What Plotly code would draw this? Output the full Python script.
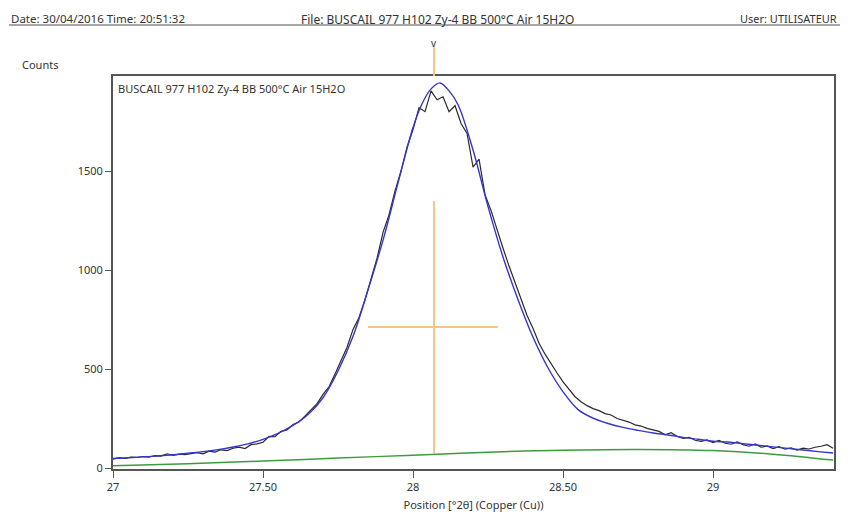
import plotly.graph_objects as go

# ---- data ----
obs_x = [round(27.00 + 0.02 * i, 2) for i in range(121)]
obs_counts = [45, 52, 48, 55, 53, 58, 55, 63, 60, 72, 64, 70, 68, 74, 78, 72, 85, 80, 92, 88,
              100, 105, 98, 118, 122, 130, 160, 158, 185, 192, 220, 232, 262, 290, 325, 372, 410, 475, 540, 610,
              700, 760, 850, 960, 1060, 1190, 1280, 1400, 1500, 1620, 1710, 1820, 1800, 1905, 1860, 1875, 1800, 1830, 1740, 1690,
              1520, 1560, 1380, 1300, 1200, 1110, 1020, 940, 860, 770, 705, 630, 575, 525, 480, 435, 395, 360, 335, 315,
              300, 290, 275, 268, 250, 240, 232, 218, 212, 200, 192, 185, 168, 178, 160, 150, 155, 140, 135, 142,
              128, 140, 125, 120, 132, 118, 110, 122, 105, 112, 98, 108, 95, 102, 90, 100, 96, 105, 110, 118, 100]

fit_x = [27.00, 27.05, 27.10, 27.15, 27.20, 27.25, 27.30, 27.35, 27.40, 27.45, 27.50, 27.55, 27.60, 27.65,
         27.70, 27.75, 27.80, 27.85, 27.90, 27.95, 28.00, 28.03, 28.06, 28.09, 28.12, 28.15, 28.20, 28.25,
         28.30, 28.35, 28.40, 28.45, 28.50, 28.55, 28.60, 28.65, 28.70, 28.75, 28.80, 28.85, 28.90, 28.95,
         29.00, 29.05, 29.10, 29.15, 29.20, 29.25, 29.30, 29.35, 29.40]
fit_counts = [48, 52, 56, 61, 67, 75, 83, 93, 106, 122, 145, 175, 215, 270,
              355, 490, 665, 900, 1151, 1440, 1720, 1840, 1915, 1945, 1905, 1835, 1606, 1320,
              1065, 850, 660, 505, 385, 295, 252, 225, 205, 190, 177, 167, 155, 145,
              135, 131, 123, 115, 107, 99, 91, 83, 76]

bg_x = [27.00, 27.25, 27.50, 27.75, 28.00, 28.25, 28.50, 28.75, 29.00, 29.20, 29.40]
bg_counts = [12, 22, 35, 50, 65, 80, 90, 94, 88, 70, 40]

peak_pos = 28.07
peak_marker_counts = [76, 1348]
fwhm_x = [27.85, 28.283]
fwhm_level = 712

x_ticks = [27, 27.5, 28, 28.5, 29]
x_tick_labels = ["27", "27.50", "28", "28.50", "29"]
y_ticks = [0, 500, 1000, 1500]

FONT = "Noto Sans"
TXT = "#333333"
ORANGE = "#f5c48c"

# page body has an 8px margin; size the figure so it fills the rest of the window
OFF = 8
W, H = 857 - OFF, 525 - OFF
L, R, T, B = 113 - OFF, 857 - 834, 76 - OFF, 525 - 469
pw, ph = W - L - R, H - T - B


def px(xp):
    return (xp - OFF - L) / pw


def py(yp):
    return (H - B - (yp - OFF)) / ph


fig = go.Figure()
fig.add_trace(go.Scatter(x=bg_x, y=bg_counts, mode="lines",
                         line=dict(color="#3f9a3f", width=1.5, shape="spline")))
fig.add_trace(go.Scatter(x=obs_x, y=obs_counts, mode="lines", line=dict(color="#2a2a2a", width=1.2)))
fig.add_trace(go.Scatter(x=fit_x, y=fit_counts, mode="lines",
                         line=dict(color="#3535cc", width=1.4, shape="spline")))
fig.add_trace(go.Scatter(x=[peak_pos, peak_pos], y=peak_marker_counts, mode="lines",
                         line=dict(color=ORANGE, width=2)))
fig.add_trace(go.Scatter(x=fwhm_x, y=[fwhm_level, fwhm_level], mode="lines",
                         line=dict(color=ORANGE, width=2)))

shapes = [
    dict(type="line", xref="x", yref="paper", x0=peak_pos, x1=peak_pos, y0=1.0, y1=py(47),
         line=dict(color=ORANGE, width=2)),
    dict(type="line", xref="paper", yref="paper", x0=px(9), x1=px(840), y0=py(25), y1=py(25),
         line=dict(color="#888888", width=1.5)),
]

HEAD_Y = py(8.5)
annotations = [
    dict(text="Date: 30/04/2016 Time: 20:51:32", xref="paper", yref="paper", x=px(9), y=HEAD_Y,
         xanchor="left", yanchor="top", showarrow=False, font=dict(family=FONT, size=11.5, color=TXT)),
    dict(text="File: BUSCAIL 977 H102 Zy-4 BB 500°C Air 15H2O", xref="paper", yref="paper", x=px(437), y=HEAD_Y,
         xanchor="center", yanchor="top", showarrow=False, font=dict(family=FONT, size=12, color=TXT)),
    dict(text="User: UTILISATEUR", xref="paper", yref="paper", x=px(839), y=HEAD_Y,
         xanchor="right", yanchor="top", showarrow=False, font=dict(family=FONT, size=11, color=TXT)),
    dict(text="Counts", xref="paper", yref="paper", x=px(20), y=py(65),
         xanchor="left", yanchor="middle", showarrow=False, font=dict(family=FONT, size=11, color=TXT)),
    dict(text="BUSCAIL 977 H102 Zy-4 BB 500°C Air 15H2O", xref="paper", yref="paper", x=px(116), y=py(88),
         xanchor="left", yanchor="middle", showarrow=False, font=dict(family=FONT, size=11, color=TXT)),
    dict(text="v", xref="x", yref="paper", x=peak_pos, y=py(43),
         xanchor="center", yanchor="middle", showarrow=False, font=dict(family=FONT, size=10, color=TXT)),
]

fig.update_layout(
    width=W, height=H,
    margin=dict(l=L, r=R, t=T, b=B),
    paper_bgcolor="white", plot_bgcolor="white",
    showlegend=False,
    shapes=shapes, annotations=annotations,
    font=dict(family=FONT, size=11, color=TXT),
)
fig.update_xaxes(range=[27, 29.403], tickvals=x_ticks, ticktext=x_tick_labels, showgrid=False, zeroline=False,
                 showline=True, linecolor="#555555", linewidth=2, mirror=True,
                 ticks="outside", ticklen=7, tickcolor="#555555", tickwidth=1,
                 title=dict(text="Position [°2θ] (Copper (Cu))", font=dict(family=FONT, size=11, color=TXT), standoff=8))
fig.update_yaxes(range=[-5, 1980], tickvals=y_ticks, showgrid=False, zeroline=False,
                 showline=True, linecolor="#555555", linewidth=2, mirror=True,
                 ticks="outside", ticklen=6, tickcolor="#555555", tickwidth=1)

fig.write_html("out.html")
